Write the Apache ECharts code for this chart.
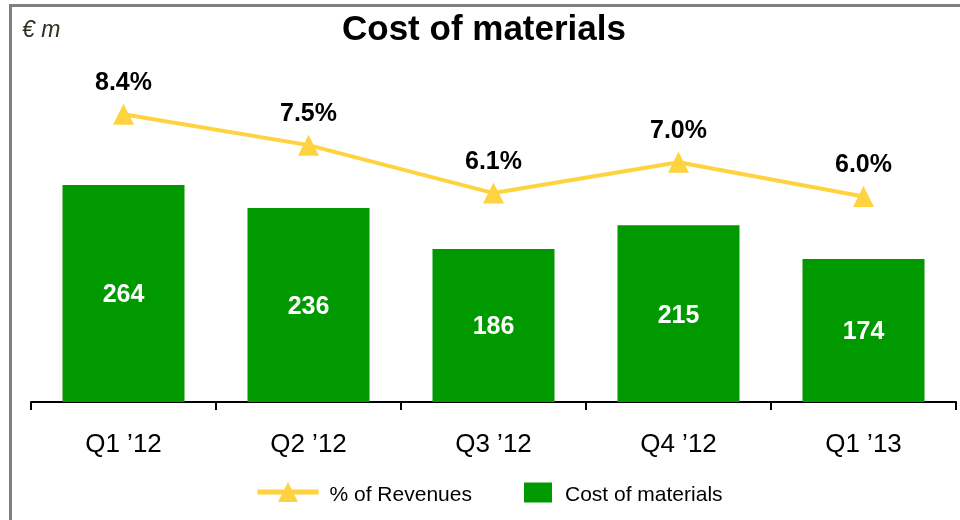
<!DOCTYPE html>
<html>
<head>
<meta charset="utf-8">
<script src="https://cdn.jsdelivr.net/npm/echarts@6/dist/echarts.min.js"></script>
<style>
  html, body { margin: 0; padding: 0; background: #fff; }
  #chart { width: 960px; height: 520px; }
</style>
</head>
<body>
<div id="chart"></div>
<script>
// quarters on the x axis
var quarters = ['Q1 \u201912', 'Q2 \u201912', 'Q3 \u201912', 'Q4 \u201912', 'Q1 \u201913']
// cost of materials, € m
var costValues = [264, 236, 186, 215, 174]
// share of revenues, %
var revenuePct = [8.4, 7.5, 6.1, 7.0, 6.0]

var green = '#009900'
var yellow = '#FFD23F'
var font = 'Liberation Sans, Arial, sans-serif'

var chart = echarts.init(document.getElementById('chart'))

// legend text pushed down a little with a rich style
function legendText(padLeft) {
  return {
    fontFamily: font,
    fontSize: 21,
    color: '#000',
    rich: {
      t: { fontFamily: font, fontSize: 21, color: '#000', padding: [6, 0, 0, padLeft] }
    }
  }
}

chart.setOption({
  animation: false,
  title: {
    text: 'Cost of materials',
    left: 342,
    top: 13,
    padding: 0,
    textStyle: {
      fontFamily: font,
      fontSize: 35,
      fontWeight: 'bold',
      color: '#000'
    }
  },
  graphic: [
    // grey frame on top and left
    { type: 'line', shape: { x1: 9, y1: 5.5, x2: 960, y2: 5.5 }, style: { stroke: '#808080', lineWidth: 3 } },
    { type: 'line', shape: { x1: 10.5, y1: 4, x2: 10.5, y2: 520 }, style: { stroke: '#808080', lineWidth: 3 } },
    {
      type: 'text',
      left: 22,
      top: 19,
      style: {
        text: '\u20ac m',
        font: 'italic 23px ' + font,
        fill: '#2f3020'
      }
    }
  ],
  legend: [
    {
      data: ['% of Revenues'],
      left: 255,
      top: 482,
      padding: 0,
      itemWidth: 61,
      itemHeight: 25,
      lineStyle: { width: 5 },
      formatter: '{t|{name}}',
      textStyle: legendText(6)
    },
    {
      data: ['Cost of materials'],
      left: 524,
      top: 482.5,
      padding: 0,
      icon: 'rect',
      itemWidth: 28,
      itemHeight: 20,
      formatter: '{t|{name}}',
      textStyle: legendText(8)
    }
  ],
  grid: {
    left: 31,
    right: 4,
    top: 73.2,
    bottom: 118
  },
  xAxis: {
    type: 'category',
    data: quarters,
    axisLine: { lineStyle: { color: '#000', width: 2 } },
    axisTick: { show: true, length: 8, lineStyle: { color: '#000', width: 2 } },
    axisLabel: {
      margin: 30,
      fontFamily: font,
      fontSize: 26,
      color: '#000'
    }
  },
  yAxis: [
    { type: 'value', min: 0, max: 400, show: false, splitLine: { show: false } },
    { type: 'value', min: 0, max: 9.6, show: false, splitLine: { show: false } }
  ],
  series: [
    {
      name: 'Cost of materials',
      type: 'bar',
      data: costValues,
      barWidth: 122,
      itemStyle: { color: green },
      label: {
        show: true,
        position: 'inside',
        offset: [0, 2],
        color: '#fff',
        fontFamily: font,
        fontSize: 25,
        fontWeight: 'bold'
      }
    },
    {
      name: '% of Revenues',
      type: 'line',
      yAxisIndex: 1,
      data: revenuePct,
      symbol: 'triangle',
      symbolSize: 21,
      itemStyle: { color: yellow },
      lineStyle: { color: yellow, width: 4 },
      label: {
        show: true,
        position: 'top',
        distance: 8,
        color: '#000',
        fontFamily: font,
        fontSize: 25,
        fontWeight: 'bold',
        formatter: function (p) { return p.value.toFixed(1) + '%' }
      }
    }
  ]
})
</script>
</body>
</html>
